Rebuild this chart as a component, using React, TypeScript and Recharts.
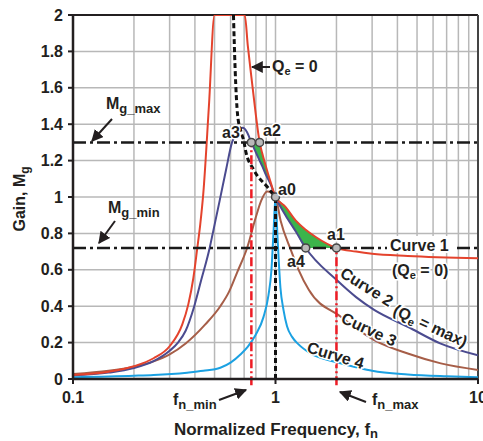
import React from 'react';
import {
  ComposedChart,
  Line,
  Area,
  XAxis,
  YAxis,
  CartesianGrid,
  ReferenceLine,
  ReferenceDot,
} from 'recharts';

const W = 483;
const H = 441;
const FONT = "'Liberation Sans', Arial, sans-serif";
const INK = '#231f20';

// axis ticks: log decades with minor lines, gain every 0.2
const freqTicks = [0.1, 0.2, 0.3, 0.4, 0.5, 0.6, 0.7, 0.8, 0.9, 1, 2, 3, 4, 5, 6, 7, 8, 9, 10];
const freqLabels = [0.1, 1, 10];
const gainTicks = [0, 0.2, 0.4, 0.6, 0.8, 1, 1.2, 1.4, 1.6, 1.8, 2];

// Curve 1 (Qe = 0), clipped at the top of the gain axis
const curve1Freq = [0.1, 0.15, 0.2, 0.25, 0.3, 0.3465, 0.371, 0.393, 0.411, 0.425, 0.44, 0.469, 0.5, 0.6, 0.705, 0.73, 0.76, 0.8, 0.835, 0.86, 0.89, 0.95, 1, 1.12, 1.26, 1.41, 1.58, 2, 2.5, 3, 4.5, 10];
const curve1Gain = [0.022, 0.04, 0.07, 0.114, 0.18, 0.3, 0.41, 0.555, 0.72, 0.85, 1.02, 1.5, 2, 2, 2, 1.83, 1.66, 1.45, 1.3, 1.24, 1.18, 1.075, 1, 0.946, 0.87, 0.82, 0.78, 0.72, 0.7, 0.688, 0.676, 0.663];

// Curve 2 (Qe = max)
const curve2Freq = [0.1, 0.15, 0.2, 0.25, 0.3, 0.33, 0.36, 0.397, 0.43, 0.473, 0.49, 0.53, 0.57, 0.61, 0.65, 0.69, 0.72, 0.76, 0.8, 0.835, 0.86, 0.89, 0.95, 1, 1.12, 1.26, 1.41, 2, 2.5, 3.07, 4.5, 6.5, 10];
const curve2Gain = [0.02, 0.035, 0.06, 0.098, 0.155, 0.2, 0.265, 0.4, 0.545, 0.72, 0.8, 0.98, 1.15, 1.3, 1.36, 1.38, 1.36, 1.3, 1.245, 1.2, 1.17, 1.13, 1.065, 1, 0.9, 0.81, 0.72, 0.545, 0.45, 0.38, 0.287, 0.196, 0.13];

// Curve 3
const curve3Freq = [0.1, 0.15, 0.2, 0.25, 0.3, 0.36, 0.45, 0.534, 0.59, 0.646, 0.724, 0.8, 0.85, 0.91, 1, 1.06, 1.19, 1.3, 1.46, 2.1, 3.07, 4.5, 6.55, 10];
const curve3Gain = [0.027, 0.045, 0.068, 0.097, 0.135, 0.195, 0.3, 0.4, 0.48, 0.585, 0.72, 0.89, 0.98, 1.03, 1, 0.87, 0.71, 0.6, 0.49, 0.342, 0.214, 0.14, 0.086, 0.05];

// Curve 4
const curve4Freq = [0.1, 0.2, 0.25, 0.366, 0.44, 0.534, 0.6, 0.671, 0.727, 0.796, 0.872, 0.923, 0.955, 0.977, 1, 1.023, 1.058, 1.095, 1.14, 1.21, 1.3, 1.49, 2, 2.5, 3, 4.5, 7, 10];
const curve4Gain = [0.01, 0.018, 0.022, 0.035, 0.045, 0.062, 0.09, 0.135, 0.175, 0.24, 0.34, 0.46, 0.6, 0.8, 1, 0.78, 0.5, 0.38, 0.29, 0.23, 0.19, 0.14, 0.092, 0.065, 0.045, 0.025, 0.015, 0.01];

// peak-gain locus for Qe = 0
const peakFreq = [0.62, 0.632, 0.65, 0.675, 0.7, 0.71, 0.78, 0.91, 1];
const peakGain = [2, 1.7, 1.45, 1.36, 1.3, 1.26, 1.15, 1.056, 1];

// operating region between curve 1 and curve 2
const upperBandFreq = [0.76, 0.8, 0.835, 0.86, 0.89, 0.95, 1];
const upperBandLow = [1.3, 1.245, 1.2, 1.17, 1.13, 1.065, 1];
const upperBandHigh = [1.3, 1.3, 1.3, 1.24, 1.18, 1.075, 1];
const lowerBandFreq = [1, 1.12, 1.26, 1.41, 1.58, 2];
const lowerBandLow = [1, 0.9, 0.81, 0.72, 0.72, 0.72];
const lowerBandHigh = [1, 0.946, 0.87, 0.82, 0.78, 0.72];

const mgMax = 1.3;
const mgMin = 0.72;
const fnMin = 0.76;
const fnMax = 2;

const points = [
  { name: 'a3', f: 0.76, g: 1.3 },
  { name: 'a2', f: 0.835, g: 1.3 },
  { name: 'a0', f: 1, g: 1 },
  { name: 'a4', f: 1.41, g: 0.72 },
  { name: 'a1', f: 2, g: 0.72 },
];

const toSeries = (freq: number[], gain: number[]) => freq.map((f, i) => ({ f, g: gain[i] }));
const toBand = (freq: number[], lo: number[], hi: number[]) =>
  freq.map((f, i) => ({ f, band: [lo[i], hi[i]] }));

const curve1 = toSeries(curve1Freq, curve1Gain);
const curve2 = toSeries(curve2Freq, curve2Gain);
const curve3 = toSeries(curve3Freq, curve3Gain);
const curve4 = toSeries(curve4Freq, curve4Gain);
const peakLocus = toSeries(peakFreq, peakGain);
const upperBand = toBand(upperBandFreq, upperBandLow, upperBandHigh);
const lowerBand = toBand(lowerBandFreq, lowerBandLow, lowerBandHigh);

const tickText = { fontFamily: FONT, fontWeight: 700, fontSize: 16, fill: INK };

const FreqTick = (props: any) => {
  const { x, y, payload } = props;
  if (!freqLabels.includes(payload.value)) return null;
  return (
    <g>
      <line x1={x} y1={y} x2={x} y2={y + 5} stroke={INK} strokeWidth={2} />
      <text x={x} y={y + 13} dy="0.71em" textAnchor="middle" style={tickText}>
        {payload.value}
      </text>
    </g>
  );
};

const GainTick = (props: any) => {
  const { x, y, payload } = props;
  const v = payload.value as number;
  const label = Number.isInteger(v) ? String(v) : v.toFixed(1);
  return (
    <g>
      <line x1={x - 5} y1={y} x2={x} y2={y} stroke={INK} strokeWidth={2} />
      <text x={x - 10} y={y} dy="0.355em" textAnchor="end" style={tickText}>
        {label}
      </text>
    </g>
  );
};

const Sub = ({ children, size = 13, dy = 4 }: any) => (
  <tspan fontSize={size} dy={dy}>
    {children}
  </tspan>
);

const halo = { stroke: '#fff', strokeWidth: 3, paintOrder: 'stroke' as const };

const Annotations = () => (
  <svg
    width={W}
    height={H}
    style={{ position: 'absolute', left: 0, top: 0, pointerEvents: 'none' }}
    fontFamily={FONT}
    fontWeight={700}
    fill={INK}
  >
    <defs>
      <marker id="head" viewBox="0 0 10 10" refX="9" refY="5" markerWidth="6" markerHeight="6" orient="auto">
        <path d="M0,0 L10,5 L0,10 z" fill={INK} />
      </marker>
    </defs>

    {/* axis titles */}
    <text transform="translate(25,199) rotate(-90)" textAnchor="middle" fontSize={16}>
      Gain, M<Sub size={12} dy={4}>g</Sub>
    </text>
    <text x={276} y={435} textAnchor="middle" fontSize={17}>
      Normalized Frequency, f<Sub size={13} dy={3}>n</Sub>
    </text>

    {/* gain limits */}
    <text x={106} y={109} fontSize={16}>
      M<Sub>g_max</Sub>
    </text>
    <line x1={112} y1={119} x2={92} y2={141} stroke={INK} strokeWidth={2} markerEnd="url(#head)" />
    <text x={108} y={213} fontSize={16}>
      M<Sub>g_min</Sub>
    </text>
    <line x1={115} y1={221} x2={99} y2={243} stroke={INK} strokeWidth={2} markerEnd="url(#head)" />

    {/* peak locus */}
    <text x={272} y={72} fontSize={16}>
      Q<Sub size={11} dy={3}>e</Sub>
      <tspan dy={-3}> = 0</tspan>
    </text>
    <line x1={270} y1={67} x2={252} y2={67} stroke={INK} strokeWidth={2} markerEnd="url(#head)" />

    {/* operating points */}
    <text x={222} y={138} fontSize={16} style={halo}>a3</text>
    <text x={263} y={136} fontSize={16} style={halo}>a2</text>
    <text x={278} y={195} fontSize={16} style={halo}>a0</text>
    <text x={327} y={240} fontSize={16} style={halo}>a1</text>
    <text x={287} y={267} fontSize={16} style={halo}>a4</text>

    {/* curve names */}
    <rect x={387} y={236} width={66} height={17} fill="#fff" />
    <text x={390} y={251} fontSize={16}>Curve 1</text>
    <text x={392} y={276} fontSize={16} style={halo}>
      (Q<Sub size={11} dy={3}>e</Sub>
      <tspan dy={-3}> = 0)</tspan>
    </text>
    <text transform="translate(339,276) rotate(32)" fontSize={16} style={halo}>Curve 2</text>
    <text transform="translate(392,314) rotate(25)" fontSize={16} style={halo}>
      (Q<Sub size={11} dy={3}>e</Sub>
      <tspan dy={-3}> = max)</tspan>
    </text>
    <text transform="translate(340,322) rotate(25)" fontSize={16} style={halo}>Curve 3</text>
    <text transform="translate(306,352) rotate(17)" fontSize={16} style={halo}>Curve 4</text>

    {/* frequency limits */}
    <text x={173} y={405} fontSize={16}>
      f<Sub>n_min</Sub>
    </text>
    <line x1={219} y1={400} x2={246} y2={390} stroke={INK} strokeWidth={2} markerEnd="url(#head)" />
    <text x={372} y={405} fontSize={16}>
      f<Sub>n_max</Sub>
    </text>
    <line x1={366} y1={402} x2={340} y2={392} stroke={INK} strokeWidth={2} markerEnd="url(#head)" />
  </svg>
);

export default function App() {
  return (
    <div style={{ position: 'absolute', left: 0, top: 0, width: W, height: H, background: '#fff' }}>
      <ComposedChart width={W} height={H} margin={{ top: 15, right: 5, bottom: 0, left: 0 }}>
        <CartesianGrid stroke="#b8b8b8" strokeWidth={1.5} />
        <XAxis
          dataKey="f"
          type="number"
          scale="log"
          domain={[0.1, 10]}
          ticks={freqTicks}
          allowDataOverflow
          height={62}
          axisLine={{ stroke: INK, strokeWidth: 2.5 }}
          tickLine={false}
          tickSize={0}
          tickMargin={0}
          tick={<FreqTick />}
          interval={0}
        />
        <YAxis
          type="number"
          domain={[0, 2]}
          ticks={gainTicks}
          allowDataOverflow
          width={73}
          axisLine={{ stroke: INK, strokeWidth: 2.5 }}
          tickLine={false}
          tickSize={0}
          tickMargin={0}
          tick={<GainTick />}
          interval={0}
        />
        <ReferenceLine y={2} stroke={INK} strokeWidth={2} />
        <ReferenceLine x={10} stroke="#444" strokeWidth={2} />

        <Area data={upperBand} dataKey="band" type="linear" fill="#3cb44b" fillOpacity={1} stroke="none" isAnimationActive={false} />
        <Area data={lowerBand} dataKey="band" type="monotone" fill="#3cb44b" fillOpacity={1} stroke="none" isAnimationActive={false} />

        <Line data={curve4} dataKey="g" type="monotone" stroke="#1ba1e2" strokeWidth={2} dot={false} isAnimationActive={false} />
        <Line data={curve3} dataKey="g" type="monotone" stroke="#a65e48" strokeWidth={2} dot={false} isAnimationActive={false} />
        <Line data={curve2} dataKey="g" type="monotone" stroke="#4b4b8f" strokeWidth={2} dot={false} isAnimationActive={false} />
        <Line data={curve1} dataKey="g" type="monotone" stroke="#e4432d" strokeWidth={2} dot={false} isAnimationActive={false} />
        <Line data={peakLocus} dataKey="g" type="monotone" stroke="#111" strokeWidth={3} strokeDasharray="5 3" dot={false} isAnimationActive={false} />

        <ReferenceLine y={mgMax} stroke="#1a1a1a" strokeWidth={2.5} strokeDasharray="13 4 3 4" />
        <ReferenceLine y={mgMin} stroke="#1a1a1a" strokeWidth={2.5} strokeDasharray="13 4 3 4" />
        <ReferenceLine
          segment={[{ x: fnMin, y: -0.035 }, { x: fnMin, y: mgMax }]}
          stroke="#ee1c25"
          strokeWidth={2.5}
          strokeDasharray="9 3 2 3"
          ifOverflow="visible"
        />
        <ReferenceLine
          segment={[{ x: fnMax, y: -0.035 }, { x: fnMax, y: mgMin }]}
          stroke="#ee1c25"
          strokeWidth={2.5}
          strokeDasharray="9 3 2 3"
          ifOverflow="visible"
        />
        <ReferenceLine
          segment={[{ x: 1, y: 0 }, { x: 1, y: 1 }]}
          stroke="#111"
          strokeWidth={3}
          strokeDasharray="5 3"
        />

        {points.map((p) => (
          <ReferenceDot key={p.name} x={p.f} y={p.g} r={4} fill="#b9b9b9" stroke="#444" strokeWidth={1.5} />
        ))}
      </ComposedChart>
      <Annotations />
    </div>
  );
}
